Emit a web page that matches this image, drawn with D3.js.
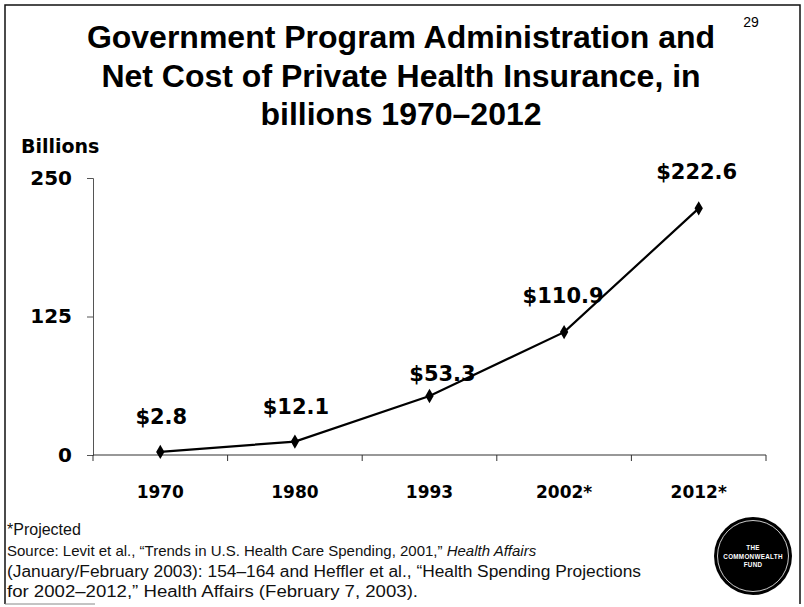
<!DOCTYPE html>
<html>
<head>
<meta charset="utf-8">
<script src="https://cdn.jsdelivr.net/npm/d3@7"></script>
<style>
  html, body { margin: 0; padding: 0; background: #fff; }
  svg { display: block; }
</style>
</head>
<body>
<svg id="chart" width="804" height="607"></svg>
<script>
// Chart data
const years = ["1970", "1980", "1993", "2002*", "2012*"];
const spending = [2.8, 12.1, 53.3, 110.9, 222.6];
const valueLabels = ["$2.8", "$12.1", "$53.3", "$110.9", "$222.6"];
const yTicks = [0, 125, 250];

// Label placement relative to each point (dx, dy in px)
const labelDx = [1, 1, 13, -1, -2];
const labelDy = [-35, -35, -23, -37, -37];

const titleLines = [
  "Government Program Administration and",
  "Net Cost of Private Health Insurance, in",
  "billions 1970\u20132012"
];

// Footnote lines
const sourceLead = "Source: Levit et al., \u201cTrends in U.S. Health Care Spending, 2001,\u201d ";
const sourceJournal = "Health Affairs";
const sourceLine3 = "(January/February 2003): 154\u2013164 and Heffler et al., \u201cHealth Spending Projections";
const sourceLine4 = "for 2002\u20132012,\u201d Health Affairs (February 7, 2003).";

const svg = d3.select("#chart");
const heavy = "'DejaVu Sans', sans-serif";
const arial = "'Liberation Sans', Arial, sans-serif";

// Slide frame
svg.append("path")
  .attr("d", "M5,604 L5,5 L800,5 L800,604")
  .attr("fill", "none").attr("stroke", "#111").attr("stroke-width", 1.5);
svg.append("line")
  .attr("x1", 5).attr("x2", 95).attr("y1", 604).attr("y2", 604)
  .attr("stroke", "#888").attr("stroke-width", 1);

// Title
svg.append("text")
  .attr("x", 401).attr("text-anchor", "middle")
  .attr("font-family", arial).attr("font-weight", "bold").attr("font-size", 32)
  .selectAll("tspan").data(titleLines).join("tspan")
  .attr("x", 401).attr("y", (d, i) => 48 + i * 38.5)
  .text(d => d);

svg.append("text")
  .attr("x", 751).attr("y", 27).attr("text-anchor", "middle")
  .attr("font-family", arial).attr("font-size", 14)
  .text("29");

// Scales
const x = d3.scaleBand().domain(years).range([93, 766]).padding(0);
const y = d3.scaleLinear().domain([0, 250]).range([455, 178]);

// Y axis
const yAxis = svg.append("g").attr("transform", "translate(93,0)")
  .call(d3.axisLeft(y).tickValues(yTicks).tickSize(6).tickPadding(15));
yAxis.select(".domain").attr("stroke", "#555").attr("stroke-width", 1);
yAxis.selectAll(".tick line").attr("stroke", "#555");
yAxis.selectAll(".tick text")
  .attr("font-family", heavy).attr("font-weight", "bold").attr("font-size", 20)
  .attr("fill", "#000").attr("dy", "0.3em");

svg.append("text")
  .attr("x", 21).attr("y", 153)
  .attr("font-family", heavy).attr("font-weight", "bold").attr("font-size", 19)
  .text("Billions");

// X axis: baseline with ticks on category boundaries
const xAxis = svg.append("g").attr("transform", "translate(0,455)");
xAxis.append("line")
  .attr("x1", 93).attr("x2", 766).attr("stroke", "#333").attr("stroke-width", 1.2);
const bounds = years.map(d => x(d)).concat([x.range()[1]]);
xAxis.selectAll("line.tick").data(bounds).join("line")
  .attr("class", "tick")
  .attr("x1", d => d).attr("x2", d => d).attr("y1", 0).attr("y2", 6)
  .attr("stroke", "#333");
xAxis.selectAll("text").data(years).join("text")
  .attr("x", d => x(d) + x.bandwidth() / 2).attr("y", 43)
  .attr("text-anchor", "middle")
  .attr("font-family", heavy).attr("font-weight", "bold").attr("font-size", 17)
  .text(d => d);

// Line and markers
const pts = years.map((d, i) => [x(d) + x.bandwidth() / 2, y(spending[i])]);
svg.append("path")
  .attr("d", d3.line()(pts))
  .attr("fill", "none").attr("stroke", "#000").attr("stroke-width", 2.2);
svg.selectAll("path.marker").data(pts).join("path")
  .attr("class", "marker")
  .attr("transform", d => `translate(${d[0]},${d[1]})`)
  .attr("d", d3.symbol().type(d3.symbolDiamond).size(60))
  .attr("fill", "#000");

// Value labels
svg.selectAll("text.value").data(pts).join("text")
  .attr("class", "value")
  .attr("x", (d, i) => d[0] + labelDx[i])
  .attr("y", (d, i) => d[1] + labelDy[i])
  .attr("dy", "0.36em")
  .attr("text-anchor", "middle")
  .attr("font-family", heavy).attr("font-weight", "bold").attr("font-size", 21)
  .text((d, i) => valueLabels[i]);

// Footnotes
const notes = svg.append("g")
  .attr("font-family", arial).attr("font-size", 16).attr("fill", "#111");
notes.append("text").attr("x", 7).attr("y", 535).text("*Projected");
const src = notes.append("text").attr("x", 7).attr("y", 556).attr("font-size", 15);
src.append("tspan").text(sourceLead);
src.append("tspan").attr("font-style", "italic").text(sourceJournal);
notes.append("text").attr("x", 7).attr("y", 576.5)
  .attr("textLength", 634).attr("lengthAdjust", "spacingAndGlyphs")
  .text(sourceLine3);
notes.append("text").attr("x", 7).attr("y", 597)
  .attr("textLength", 411).attr("lengthAdjust", "spacingAndGlyphs")
  .text(sourceLine4);

// Logo
const logo = svg.append("g").attr("transform", "translate(753,556)");
logo.append("circle").attr("r", 39).attr("fill", "#000");
logo.append("circle").attr("r", 35.5).attr("fill", "none").attr("stroke", "#fff").attr("stroke-width", 0.8);
logo.selectAll("text").data(["THE", "COMMONWEALTH", "FUND"]).join("text")
  .attr("y", (d, i) => -6 + i * 8.5)
  .attr("text-anchor", "middle")
  .attr("font-family", arial).attr("font-weight", "bold").attr("font-size", 6.3)
  .attr("letter-spacing", 0.3)
  .attr("fill", "#fff")
  .text(d => d);
</script>
</body>
</html>
